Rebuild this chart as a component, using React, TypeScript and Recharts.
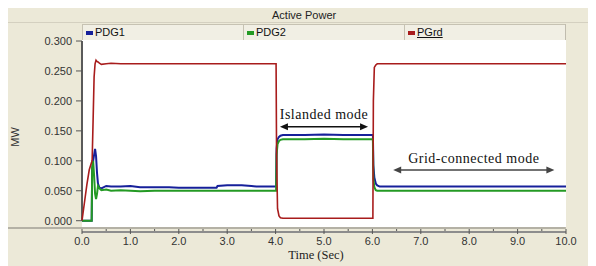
import { LineChart, Line, XAxis, YAxis, CartesianGrid, ReferenceLine } from 'recharts'

// simulation time (s)
const time = [
  0, 0.05, 0.1, 0.15, 0.2, 0.21, 0.23, 0.25, 0.27, 0.29, 0.31, 0.33, 0.36, 0.4, 0.5, 0.6, 0.8, 1.0,
  1.2, 1.5, 1.8, 2.0, 2.4, 2.78, 2.8, 3.0, 3.3, 3.5, 3.6, 4.0, 4.01, 4.02, 4.04, 4.07, 4.1, 4.15,
  4.3, 4.6, 5.0, 5.4, 5.8, 6.0, 6.01, 6.02, 6.04, 6.07, 6.1, 6.15, 6.3, 7.0, 8.0, 9.0, 10.0,
]

// active power (MW)
const pdg1 = [
  0, 0, 0, 0, 0, 0.085, 0.1, 0.11, 0.12, 0.108, 0.08, 0.062, 0.055, 0.054, 0.058, 0.057, 0.057, 0.058,
  0.056, 0.056, 0.056, 0.055, 0.055, 0.055, 0.058, 0.059, 0.059, 0.058, 0.057, 0.057, 0.057, 0.12, 0.136, 0.14, 0.142, 0.143,
  0.143, 0.143, 0.144, 0.143, 0.143, 0.143, 0.143, 0.093, 0.072, 0.062, 0.059, 0.057, 0.057, 0.057, 0.057, 0.057, 0.057,
]
const pdg2 = [
  0, 0, 0, 0, 0, 0.088, 0.1, 0.075, 0.045, 0.036, 0.045, 0.058, 0.054, 0.051, 0.052, 0.05, 0.051, 0.05,
  0.049, 0.05, 0.05, 0.05, 0.05, 0.05, 0.05, 0.05, 0.05, 0.05, 0.05, 0.05, 0.05, 0.11, 0.128, 0.133, 0.135, 0.136,
  0.136, 0.136, 0.137, 0.136, 0.136, 0.136, 0.136, 0.07, 0.056, 0.051, 0.05, 0.05, 0.05, 0.05, 0.05, 0.05, 0.05,
]
const pgrd = [
  0, 0.03, 0.06, 0.085, 0.098, 0.102, 0.17, 0.24, 0.262, 0.268, 0.266, 0.265, 0.263, 0.261, 0.262, 0.263, 0.262, 0.262,
  0.262, 0.262, 0.262, 0.262, 0.262, 0.262, 0.262, 0.262, 0.262, 0.262, 0.262, 0.262, 0.262, 0.11, 0.02, 0.008, 0.005, 0.004,
  0.004, 0.004, 0.004, 0.004, 0.004, 0.004, 0.004, 0.2, 0.256, 0.26, 0.262, 0.262, 0.262, 0.262, 0.262, 0.262, 0.262,
]

const xTicks = [0, 0.5, 1, 1.5, 2, 2.5, 3, 3.5, 4, 4.5, 5, 5.5, 6, 6.5, 7, 7.5, 8, 8.5, 9, 9.5, 10]
const yTicks = [0, 0.05, 0.1, 0.15, 0.2, 0.25, 0.3]

const series = [
  { key: 'pdg1', name: 'PDG1', color: '#16209a', width: 2 },
  { key: 'pdg2', name: 'PDG2', color: '#249a24', width: 2 },
  { key: 'pgrd', name: 'PGrd', color: '#a81c1c', width: 1.6 },
]

const annotations = [
  { label: 'Islanded mode', from: 4.09, to: 5.91, y: 0.157, textY: 0.17, color: '#111' },
  { label: 'Grid-connected mode', from: 6.43, to: 9.76, y: 0.0846, textY: 0.0963, color: '#444' },
]

const data = time.map((t, i) => ({ t, pdg1: pdg1[i], pdg2: pdg2[i], pgrd: pgrd[i] }))

const BG = '#ece9d8'
const SANS = '"Liberation Sans", Arial, sans-serif'
const SERIF = '"Liberation Serif", "Times New Roman", serif'

function XTick(props: any) {
  const { x, y, payload } = props
  const v: number = payload.value
  const major = Math.abs(v - Math.round(v)) < 1e-6
  if (!major) {
    return <line x1={x} x2={x} y1={y + 2} y2={y + 4} stroke="#555" strokeWidth={1} />
  }
  return (
    <g>
      <line x1={x} x2={x} y1={y + 2} y2={y + 7} stroke="#555" strokeWidth={1} />
      <text x={x} y={y + 18} textAnchor="middle" fontSize={11} fontFamily={SANS} fill="#333">
        {v.toFixed(1)}
      </text>
    </g>
  )
}

function arrowShape(label: string, color: string, textDy: number) {
  return (p: any) => {
    const { x1, y1, x2 } = p
    const mid = (x1 + x2) / 2
    return (
      <g>
        <line x1={x1 + 6} x2={x2 - 6} y1={y1} y2={y1} stroke={color} strokeWidth={1.5} />
        <polygon points={`${x1},${y1} ${x1 + 8},${y1 - 3.5} ${x1 + 8},${y1 + 3.5}`} fill={color} />
        <polygon points={`${x2},${y1} ${x2 - 8},${y1 - 3.5} ${x2 - 8},${y1 + 3.5}`} fill={color} />
        <text x={mid} y={y1 - textDy} textAnchor="middle" fontSize={14} letterSpacing={0.5} fontFamily={SERIF} fill="#111">
          {label}
        </text>
      </g>
    )
  }
}

const Y_MIN = -0.0105
const Y_MAX = 0.3017
const PX_PER_UNIT = 599

export default function App() {
  return (
    <div style={{ position: 'relative', width: 588, height: 258, background: BG, fontFamily: SANS, overflow: 'hidden' }}>
      {/* title bar */}
      <div style={{ position: 'absolute', left: 0, top: 0, width: 588, height: 14, borderBottom: '1px solid #d4d0c0', fontSize: 11, color: '#222', lineHeight: '14px' }}>
        <span style={{ position: 'absolute', left: 264 }}>Active Power</span>
      </div>
      {/* legend cells */}
      {series.map((s, i) => (
        <div
          key={s.key}
          style={{
            position: 'absolute', left: 74 + i * 161, top: 16, width: 160, height: 15,
            background: '#f1efe4', border: '1px solid #c6c2b2', borderRight: i === 2 ? '1px solid #aaa69a' : '1px solid #c6c2b2',
            fontSize: 11, lineHeight: '15px', color: '#111',
          }}
        >
          <span style={{ position: 'absolute', left: 3, top: 6, width: 7, height: 4, background: s.color }} />
          <span style={{ position: 'absolute', left: 12, textDecoration: i === 2 ? 'underline' : 'none' }}>{s.name}</span>
        </div>
      ))}
      {/* y axis title */}
      <div style={{ position: 'absolute', left: -3, top: 123, width: 20, fontSize: 11, color: '#333', transform: 'rotate(-90deg)', textAlign: 'center' }}>
        MW
      </div>
      {/* x axis title */}
      <div style={{ position: 'absolute', left: 258, top: 240, width: 100, textAlign: 'center', fontFamily: SERIF, fontSize: 12.5, color: '#222' }}>
        Time (Sec)
      </div>
      {/* separator under plot + right edge */}
      <div style={{ position: 'absolute', left: 0, top: 219, width: 558, height: 2, background: '#b4b1a5' }} />
      <div style={{ position: 'absolute', left: 557, top: 16, width: 1, height: 205, background: '#c0bcae' }} />
      {/* x axis line */}
      <div style={{ position: 'absolute', left: 74, top: 223, width: 484, height: 2, background: '#8d8d8d' }} />

      <div style={{ position: 'absolute', left: 0, top: 0 }}>
        <LineChart width={588} height={258} data={data} margin={{ top: 32, right: 30, bottom: 9, left: 0 }}>
          <CartesianGrid fill="#ffffff" horizontal={false} vertical={false} />
          <XAxis
            dataKey="t"
            type="number"
            domain={[0, 10]}
            ticks={xTicks}
            interval={0}
            axisLine={false}
            tickLine={false}
            tickSize={0}
            tickMargin={0}
            height={30}
            tick={<XTick />}
          />
          <YAxis
            type="number"
            domain={[Y_MIN, Y_MAX]}
            ticks={yTicks}
            interval={0}
            width={74}
            axisLine={false}
            tickLine={{ stroke: '#555' }}
            tickSize={6}
            tickMargin={4}
            tick={{ fontSize: 11, fill: '#333', fontFamily: SANS }}
            tickFormatter={(v: number) => v.toFixed(3)}
          />
          <ReferenceLine segment={[{ x: 0, y: 0 }, { x: 0, y: 0.3 }]} stroke="#5a5a5a" strokeWidth={2} />
          {series.map((s) => (
            <Line
              key={s.key}
              type="linear"
              dataKey={s.key}
              name={s.name}
              stroke={s.color}
              strokeWidth={s.width}
              dot={false}
              isAnimationActive={false}
            />
          ))}
          {annotations.map((a) => (
            <ReferenceLine
              key={a.label}
              segment={[{ x: a.from, y: a.y }, { x: a.to, y: a.y }]}
              shape={arrowShape(a.label, a.color, (a.textY - a.y) * PX_PER_UNIT)}
            />
          ))}
        </LineChart>
      </div>
    </div>
  )
}
